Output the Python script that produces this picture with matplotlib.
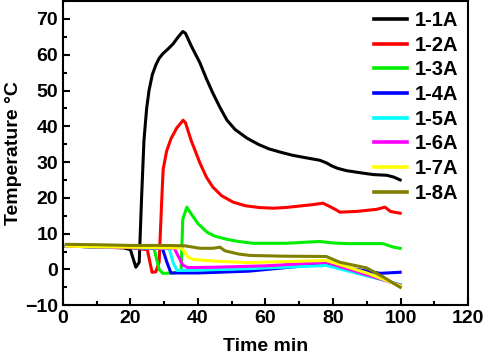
import matplotlib
matplotlib.use("Agg")
import matplotlib.pyplot as plt
from matplotlib.ticker import MultipleLocator

plt.rcParams['font.family'] = ['Liberation Sans', 'DejaVu Sans']
plt.rcParams['font.weight'] = 'bold'

# time (min) and temperature (C)
t1 = [1, 10, 18, 20, 21.6, 22.6, 23.3, 24.0, 24.8, 25.5, 26.5, 27.6, 28.5, 29.6, 31, 32.6, 34, 35.5,
	36.3, 38, 40.6, 42.5, 44.4, 46.5, 48.6, 51, 54.5, 58, 61, 64.3, 68, 72, 76.1, 78, 79.5, 81.2,
	84, 88.9, 92, 96, 98, 99.9]
y1 = [6.5, 6.3, 6.0, 5.5, 0.6, 2.0, 20, 36, 45, 50, 54.5, 57.3, 59, 60.3, 61.5, 63, 64.8, 66.5,
	66, 62.5, 57.7, 53.3, 49.3, 45.3, 41.7, 39.1, 36.7, 34.9, 33.7, 32.8, 31.9, 31.2, 30.5, 29.8, 29.0, 28.3,
	27.6, 26.9, 26.5, 26.3, 25.8, 25.0]

t2 = [1, 10, 20, 25, 26.4, 27.5, 28.5, 29.3, 29.7, 30.7, 32, 33.7, 35.6, 36.3, 38, 40.6, 42.5, 44.4,
	47, 50.4, 54, 58, 62.2, 66, 70, 74, 77, 79, 81.2, 82, 87, 93, 95.4, 97, 99.9]
y2 = [6.5, 6.3, 6.1, 5.5, -0.8, -0.7, 2, 20, 28, 33, 36.5, 39.5, 41.7, 41, 36, 29.7, 25.8, 23,
	20.6, 18.8, 17.8, 17.3, 17.1, 17.3, 17.7, 18.1, 18.5, 17.6, 16.5, 16, 16.2, 16.8, 17.4, 16.2, 15.7]

t3 = [1, 10, 20, 27, 28.5, 29.6, 33, 35.0, 35.5, 36.7, 38, 40, 42.7, 45, 48.6, 52, 56.3, 66, 76,
	80, 84, 94.8, 98, 99.9]
y3 = [6.5, 6.3, 6.1, 5.8, 0, -1.1, -1.0, -0.5, 14, 17.4, 15.5, 12.8, 10.4, 9.3, 8.4, 7.8, 7.3, 7.3, 7.8,
	7.4, 7.2, 7.2, 6.2, 5.9]

t4 = [1, 10, 20, 29.5, 30.8, 32, 40, 55, 77, 80, 88.9, 94, 99.9]
y4 = [6.5, 6.3, 6.1, 5.8, 2, -1.0, -1.0, -0.5, 1.5, 1.0, -0.3, -1.1, -0.8]

t5 = [1, 10, 20, 31.5, 32.6, 33.8, 40, 55, 78, 90, 99.9]
y5 = [6.5, 6.3, 6.1, 5.8, 2, -0.3, -0.2, 0.2, 1.1, -1.8, -4.2]

t6 = [1, 10, 20, 33, 34, 35.5, 37, 45, 60, 78, 90, 99.9]
y6 = [6.5, 6.3, 6.1, 5.9, 4, 1.2, 0.5, 0.6, 1.0, 2.0, -1.5, -4.4]

t7 = [1, 10, 20, 35, 36, 37, 38.5, 45, 55, 78, 90, 99.9]
y7 = [6.5, 6.3, 6.2, 6.0, 5.0, 3.5, 2.8, 2.3, 1.9, 2.5, -1.0, -4.6]

t8 = [1, 10, 20, 30, 36, 40.6, 44.5, 46.5, 48, 52, 55.4, 65, 78, 82, 90, 95, 99.9]
y8 = [7.0, 6.9, 6.7, 6.7, 6.6, 5.9, 5.9, 6.2, 5.2, 4.3, 3.9, 3.7, 3.6, 2.0, 0.4, -2.2, -5.0]

labels = ['1-1A', '1-2A', '1-3A', '1-4A', '1-5A', '1-6A', '1-7A', '1-8A']
colors = ['#000000', '#ff0000', '#00ee00', '#0000ff', '#00ffff', '#ff00ff', '#ffff00', '#808000']

series = [(t1, y1), (t2, y2), (t3, y3), (t4, y4), (t5, y5), (t6, y6), (t7, y7), (t8, y8)]

fig = plt.figure(figsize=(4.84, 3.62), dpi=100)
ax = fig.add_axes([0.130, 0.157, 0.837, 0.840])

for (t, y), lab, c in zip(series, labels, colors):
	ax.plot(t, y, color=c, lw=2.2, label=lab, solid_joinstyle='round')

ax.set_xlim(0, 120)
ax.set_ylim(-10, 75)
ax.xaxis.set_major_locator(MultipleLocator(20))
ax.xaxis.set_minor_locator(MultipleLocator(10))
ax.yaxis.set_major_locator(MultipleLocator(10))
ax.yaxis.set_minor_locator(MultipleLocator(5))
ax.tick_params(which='both', direction='in', width=1.5, labelsize=14)
ax.tick_params(which='major', length=5)
ax.tick_params(which='minor', length=3)
for s in ax.spines.values():
	s.set_linewidth(1.5)

ax.set_xlabel('Time min', fontsize=14, fontweight='bold', labelpad=8)
ax.set_ylabel('Temperature °C', fontsize=14, fontweight='bold', labelpad=2)

leg = ax.legend(loc='upper right', frameon=False, fontsize=14.5, handlelength=1.65,
	handletextpad=0.35, labelspacing=0.28, borderaxespad=0.3, borderpad=0.2)
for txt in leg.get_texts():
	txt.set_fontweight('bold')
for ln in leg.get_lines():
	ln.set_linewidth(2.6)

fig.savefig('out.png', dpi=100)
